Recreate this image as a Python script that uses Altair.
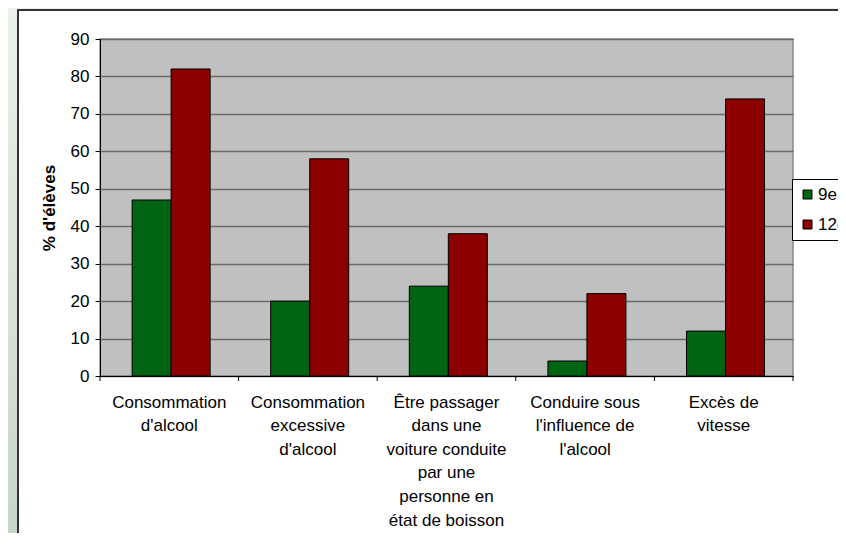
import altair as alt
import pandas as pd

categories = [
    "Consommation\nd'alcool",
    "Consommation\nexcessive\nd'alcool",
    "Être passager\ndans une\nvoiture conduite\npar une\npersonne en\nétat de boisson",
    "Conduire sous\nl'influence de\nl'alcool",
    "Excès de\nvitesse",
]
grades = ["9e année", "12e année"]
values_9e = [47, 20, 24, 4, 12]
values_12e = [82, 58, 38, 22, 74]
colors = ["#006414", "#8B0000"]
y_ticks = [0, 10, 20, 30, 40, 50, 60, 70, 80, 90]

rows = []
for c, a, b in zip(categories, values_9e, values_12e):
    rows.append({"cat": c, "grade": grades[0], "val": a})
    rows.append({"cat": c, "grade": grades[1], "val": b})
df = pd.DataFrame(rows)

W, H = 693, 337
FONT = "Liberation Sans"

bars = alt.Chart(df).mark_bar(stroke="black", strokeWidth=1).encode(
    x=alt.X("cat:N", sort=categories, title=None,
            scale=alt.Scale(paddingInner=0, paddingOuter=0),
            axis=alt.Axis(labelExpr="split(datum.label, '\\n')", labelAngle=0,
                          ticks=False, labelPadding=18, labelFontSize=17,
                          labelLineHeight=23.6, labelColor="black",
                          labelFont=FONT, labelBaseline="top",
                          domainColor="black", domainWidth=1,
                          labelLimit=200, labelOverlap=False)),
    xOffset=alt.XOffset("grade:N", sort=grades,
                        scale=alt.Scale(paddingInner=0, paddingOuter=0.777, align=0.53)),
    y=alt.Y("val:Q", title="% d'élèves",
            scale=alt.Scale(domain=[0, 90], nice=False),
            axis=alt.Axis(values=y_ticks, tickSize=5, tickColor="black",
                          domainColor="black", labelFontSize=17,
                          labelFont=FONT, labelColor="black", labelPadding=6,
                          titleFont=FONT, titleFontSize=17, titleFontWeight="bold",
                          titleColor="black", titlePadding=12,
                          grid=True, gridColor="#6a6a6a", gridWidth=1.4)),
    color=alt.Color("grade:N", sort=grades,
                    scale=alt.Scale(domain=grades, range=colors),
                    legend=alt.Legend(title=None, orient="none", legendX=692, legendY=140,
                                      padding=7, rowPadding=12, strokeColor="black",
                                      fillColor="white", symbolType="square",
                                      symbolSize=81, symbolStrokeColor="black",
                                      symbolStrokeWidth=1, labelFontSize=17,
                                      labelFont=FONT, labelColor="black",
                                      labelOffset=2, labelLimit=300)),
)

cat_df = pd.DataFrame({"cat": categories})
ticks_start = alt.Chart(cat_df).mark_rule(color="black").encode(
    x=alt.X("cat:N", sort=categories, bandPosition=0, axis=None),
    y=alt.value(H), y2=alt.value(H + 5),
)
ticks_end = alt.Chart(pd.DataFrame({"cat": categories[-1:]})).mark_rule(color="black").encode(
    x=alt.X("cat:N", sort=categories, bandPosition=1, axis=None),
    y=alt.value(H), y2=alt.value(H + 5),
)

one = pd.DataFrame({"k": [0]})
strip = alt.Chart(one).mark_rect(
    color=alt.LinearGradient(
        gradient="linear",
        stops=[alt.GradientStop(color="#ebf0eb", offset=0),
               alt.GradientStop(color="#c6d6c6", offset=1)],
        x1=0, x2=0, y1=0, y2=1)
).encode(x=alt.value(-92), x2=alt.value(-83), y=alt.value(-31), y2=alt.value(500))
top_strip = alt.Chart(one).mark_rect(color="#ebf0eb").encode(
    x=alt.value(-92), x2=alt.value(760), y=alt.value(-31), y2=alt.value(-30))
left_line = alt.Chart(one).mark_rect(color="#333333").encode(
    x=alt.value(-83), x2=alt.value(-81), y=alt.value(-30), y2=alt.value(500))
top_line = alt.Chart(one).mark_rect(color="#333333").encode(
    x=alt.value(-83), x2=alt.value(760), y=alt.value(-30), y2=alt.value(-28))

chart = alt.layer(strip, top_strip, left_line, top_line, bars, ticks_start, ticks_end).resolve_axis(
    x="independent"
).properties(
    width=W, height=H,
    autosize=alt.AutoSizeParams(type="none"),
    padding={"left": 92, "top": 31, "right": 45, "bottom": 157},
    background="white",
).configure_view(fill="#C0C0C0", stroke="#8a8a8a", strokeWidth=1.5)

chart.save("out.html", embed_options={"renderer": "svg", "actions": False})
